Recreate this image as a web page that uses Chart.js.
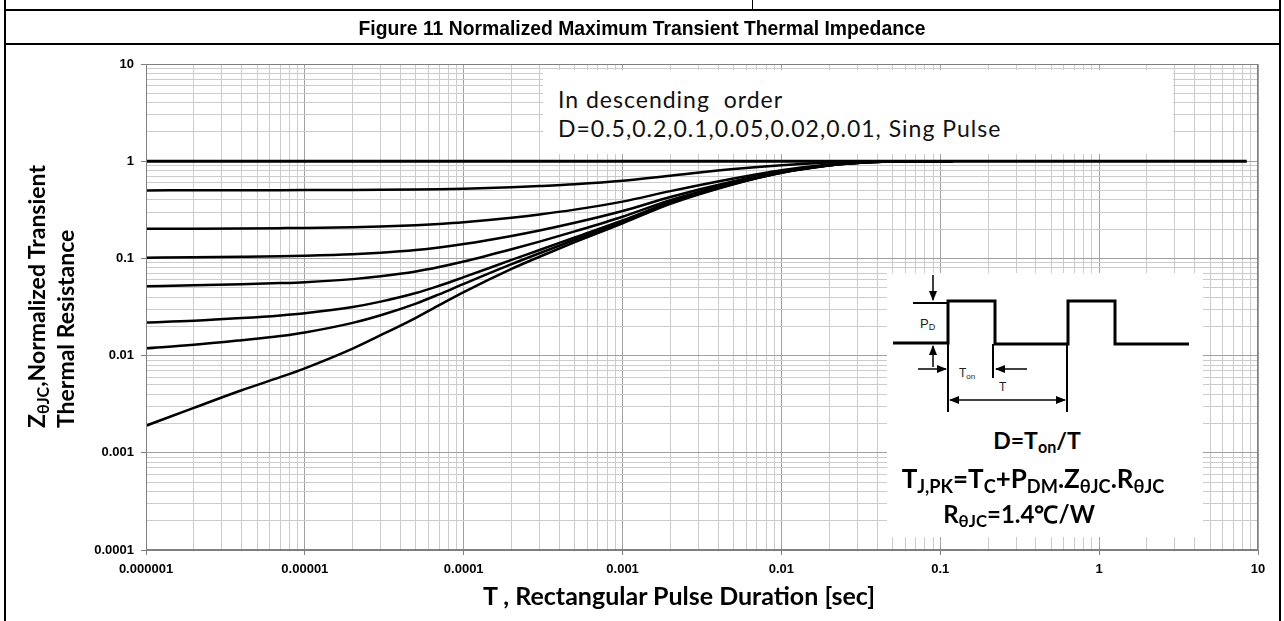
<!DOCTYPE html>
<html>
<head>
<meta charset="utf-8">
<script src="https://cdn.jsdelivr.net/npm/chart.js@4"></script>
<style>
  body { margin: 0; background: #fff; }
  #page { position: relative; width: 1284px; height: 621px; overflow: hidden; background: #fff; }
  #mchart { position: absolute; left: 0; top: 0; }
  .rule { position: absolute; background: #000; }
  #fig-title { position: absolute; left: 0; top: 16px; width: 1284px; text-align: center;
    font: bold 21px "Liberation Sans", Arial, sans-serif; color: #000; transform: scaleX(0.92); }
  #y-title { position: absolute; left: 22px; top: 428px; transform: rotate(-90deg); transform-origin: 0 0;
    white-space: nowrap; font: bold 23px Lato, sans-serif; line-height: 29px; color: #000; }
  #x-title { position: absolute; left: 429px; top: 580px; width: 500px; text-align: center;
    font: bold 25px Lato, sans-serif; color: #000; }
  sub { font-size: 0.7em; vertical-align: -0.25em; line-height: 0; }
  #note { position: absolute; left: 543px; top: 70px; width: 630px; height: 84px; background: #fff;
    font: 23px Lato, sans-serif; letter-spacing: 1px; color: #111; }
  #note div { position: absolute; left: 15px; white-space: nowrap; }
  #inset { position: absolute; left: 887px; top: 273px; width: 316px; height: 264px; background: #fff; }
  #inset svg { position: absolute; left: 0; top: 0; }
  .formula { position: absolute; left: 0; width: 300px; text-align: center; white-space: nowrap;
    font-family: Lato, sans-serif; font-weight: bold; color: #000; }
</style>
</head>
<body>
<div id="page">
  <canvas id="mchart" width="1284" height="621"></canvas>

  <!-- table frame around the figure -->
  <div class="rule" style="left:4px; top:0; width:2px; height:621px;"></div>
  <div class="rule" style="left:1279px; top:0; width:2px; height:621px;"></div>
  <div class="rule" style="left:4px; top:9px; width:1277px; height:2px;"></div>
  <div class="rule" style="left:752px; top:0; width:1px; height:10px;"></div>
  <div class="rule" style="left:4px; top:43px; width:1277px; height:2px;"></div>
  <div id="fig-title">Figure 11 Normalized Maximum Transient Thermal Impedance</div>

  <div id="y-title">Z<sub>θJC</sub>,Normalized Transient<br>Thermal Resistance</div>
  <div id="x-title">T , Rectangular Pulse Duration [sec]</div>

  <div id="note">
    <div style="top:15px;">In descending &nbsp;order</div>
    <div style="top:44px;">D=0.5,0.2,0.1,0.05,0.02,0.01, Sing Pulse</div>
  </div>

  <div id="inset">
    <svg width="316" height="264" viewBox="0 0 316 264">
      <defs>
        <marker id="ah" viewBox="0 0 10 10" refX="9" refY="5" markerWidth="7" markerHeight="7" orient="auto-start-reverse">
          <path d="M0,1 L10,5 L0,9 z" fill="#000"/>
        </marker>
      </defs>
      <polyline points="6,70 61,70 61,28 108,28 108,71 181,71 181,28 228,28 228,71 302,71"
        fill="none" stroke="#000" stroke-width="3"/>
      <line x1="26" y1="30" x2="61" y2="30" stroke="#000" stroke-width="2"/>
      <line x1="46" y1="2" x2="46" y2="27" stroke="#000" stroke-width="1.5" marker-end="url(#ah)"/>
      <line x1="46" y1="94" x2="46" y2="73" stroke="#000" stroke-width="1.5" marker-end="url(#ah)"/>
      <line x1="61" y1="70" x2="61" y2="139" stroke="#000" stroke-width="2"/>
      <line x1="106" y1="71" x2="106" y2="105" stroke="#000" stroke-width="2"/>
      <line x1="180" y1="71" x2="180" y2="139" stroke="#000" stroke-width="2"/>
      <line x1="31" y1="96" x2="59" y2="96" stroke="#000" stroke-width="1.5" marker-end="url(#ah)"/>
      <line x1="140" y1="96" x2="109" y2="96" stroke="#000" stroke-width="1.5" marker-end="url(#ah)"/>
      <line x1="63" y1="127" x2="178" y2="127" stroke="#000" stroke-width="1.5" marker-start="url(#ah)" marker-end="url(#ah)"/>
      <text x="33" y="55" font-family="Liberation Sans, Arial" font-size="13" fill="#222">P<tspan font-size="9" dy="2">D</tspan></text>
      <text x="72" y="104" font-family="Liberation Sans, Arial" font-size="12" fill="#222">T<tspan font-size="8" dy="2">on</tspan></text>
      <text x="112" y="118" font-family="Liberation Sans, Arial" font-size="12" fill="#222">T</text>
    </svg>
    <div class="formula" style="top:153px; font-size:23px;">D=T<sub>on</sub>/T</div>
    <div class="formula" style="top:189px; font-size:26px; left:-4px;">T<sub>J,PK</sub>=T<sub>C</sub>+P<sub>DM</sub>.Z<sub>θJC</sub>.R<sub>θJC</sub></div>
    <div class="formula" style="top:224px; font-size:24px; left:-18px;">R<sub>θJC</sub>=1.4℃/W</div>
  </div>
</div>

<script>
// Rectangular pulse duration, seconds (shared by every curve)
const pulseTimes = [1e-6, 2e-6, 4e-6, 7e-6, 1e-5, 2e-5, 3e-5, 5e-5, 7e-5, 1e-4,
                    2e-4, 3e-4, 5e-4, 1e-3, 2e-3, 5e-3, 1e-2, 2e-2, 3e-2, 5e-2, 1.2e-1];

// Normalized Z(thJC), one list per duty cycle
const zD05   = [0.501, 0.5015, 0.502, 0.503, 0.504, 0.506, 0.508, 0.512, 0.516, 0.522,
                0.539, 0.555, 0.58, 0.63, 0.71, 0.83, 0.91, 0.97, 0.99, 0.998, 1.0];
const zD02   = [0.2015, 0.2023, 0.2035, 0.2048, 0.2059, 0.2094, 0.213, 0.2196, 0.2264, 0.236,
                0.2624, 0.2832, 0.3176, 0.384, 0.492, 0.664, 0.808, 0.924, 0.968, 0.992, 1.0];
const zD01   = [0.1017, 0.1026, 0.104, 0.1054, 0.1067, 0.1106, 0.1146, 0.1221, 0.1297, 0.1405,
                0.1702, 0.1936, 0.2323, 0.307, 0.4285, 0.622, 0.784, 0.9145, 0.964, 0.991, 1.0];
const zD005  = [0.0518, 0.0528, 0.0542, 0.0557, 0.057, 0.0612, 0.0654, 0.0733, 0.0814, 0.0928,
                0.1241, 0.1488, 0.1897, 0.2685, 0.3968, 0.601, 0.772, 0.9098, 0.962, 0.9905, 1.0];
const zD002  = [0.0219, 0.0228, 0.0243, 0.0259, 0.0273, 0.0316, 0.0359, 0.044, 0.0523, 0.0641,
                0.0964, 0.1219, 0.1641, 0.2454, 0.3777, 0.5884, 0.7648, 0.9069, 0.9608, 0.9902, 1.0];
const zD001  = [0.0119, 0.0129, 0.0144, 0.0159, 0.0173, 0.0217, 0.026, 0.0343, 0.0427, 0.0546,
                0.0872, 0.113, 0.1555, 0.2377, 0.3714, 0.5842, 0.7624, 0.906, 0.9604, 0.9901, 1.0];
const zSingle = [0.0019, 0.0029, 0.0044, 0.006, 0.0074, 0.0118, 0.0162, 0.0245, 0.033, 0.045,
                 0.078, 0.104, 0.147, 0.23, 0.365, 0.58, 0.76, 0.905, 0.96, 0.99, 1.0];

// flat line at Z = 1
const unityTimes = [1e-6, 8.5];
const unityValues = [1, 1];

// axis decades and their labels
const xDecades = [1e-6, 1e-5, 1e-4, 1e-3, 1e-2, 1e-1, 1, 10];
const xTickLabels = ['0.000001', '0.00001', '0.0001', '0.001', '0.01', '0.1', '1', '10'];
const yDecades = [1e-4, 1e-3, 1e-2, 1e-1, 1, 10];
const yTickLabels = ['0.0001', '0.001', '0.01', '0.1', '1', '10'];

const GRID_MAJOR = '#a0a0a0';
const GRID_MINOR = '#cccccc';
const AXIS_GRAY = '#808080';

function to_points(xs, ys){
  return xs.map((x, i) => ({x: x, y: ys[i]}));
}

// decade ticks plus 2..9 minor ticks inside every decade
function log_ticks(decades){
  const ticks = [];
  decades.forEach((d, i) => {
    ticks.push({value: d, major: true});
    if(i < decades.length - 1){
      for(let m = 2; m <= 9; m++) ticks.push({value: d * m, major: false});
    }
  });
  return ticks;
}

function decade_label(decades, labels){
  return function(value, index, ticks){
    if(!ticks[index].major) return '';
    const k = decades.findIndex(d => Math.abs(Math.log10(d) - Math.log10(value)) < 1e-6);
    return k >= 0 ? labels[k] : '';
  };
}

function curve(data, width){
  return {
    data: data,
    borderColor: '#000',
    borderWidth: width,
    pointRadius: 0,
    fill: false,
    cubicInterpolationMode: 'monotone',
  };
}

// gray frame round the plot area
const plotFrame = {
  id: 'plotFrame',
  afterDraw(chart){
    const a = chart.chartArea;
    const ctx = chart.ctx;
    ctx.save();
    ctx.strokeStyle = AXIS_GRAY;
    ctx.lineWidth = 1;
    ctx.strokeRect(a.left + 0.5, a.top + 0.5, a.right - a.left - 1, a.bottom - a.top - 1);
    ctx.restore();
  }
};

const tickFont = {family: '"Liberation Sans", Arial, sans-serif', weight: 'bold', size: 13};

function axis_options(decades, labels, fitFn){
  return {
    type: 'logarithmic',
    min: decades[0],
    max: decades[decades.length - 1],
    afterBuildTicks: (scale) => { scale.ticks = log_ticks(decades); },
    afterFit: fitFn,
    ticks: {
      callback: decade_label(decades, labels),
      autoSkip: false,
      maxRotation: 0,
      color: '#000',
      font: tickFont,
      padding: 7,
    },
    grid: {
      color: (c) => (c.tick && c.tick.major) ? GRID_MAJOR : GRID_MINOR,
      tickColor: (c) => (c.tick && c.tick.major) ? AXIS_GRAY : 'rgba(0,0,0,0)',
      tickLength: 5,
      lineWidth: 1,
    },
    border: {color: AXIS_GRAY, width: 1},
  };
}

const ctx = document.getElementById('mchart').getContext('2d');
const zChart = new Chart(ctx, {
  type: 'line',
  data: {
    datasets: [
      curve(to_points(unityTimes, unityValues), 3),
      curve(to_points(pulseTimes, zD05), 2.5),
      curve(to_points(pulseTimes, zD02), 2.5),
      curve(to_points(pulseTimes, zD01), 2.5),
      curve(to_points(pulseTimes, zD005), 2.5),
      curve(to_points(pulseTimes, zD002), 2.5),
      curve(to_points(pulseTimes, zD001), 2.5),
      curve(to_points(pulseTimes, zSingle), 2.5),
    ]
  },
  options: {
    responsive: false,
    animation: false,
    layout: {padding: {left: 0, top: 64, right: 26, bottom: 0}},
    plugins: {
      legend: {display: false},
      tooltip: {enabled: false},
    },
    scales: {
      x: axis_options(xDecades, xTickLabels, (s) => { s.height = 71; }),
      y: axis_options(yDecades, yTickLabels, (s) => { s.width = 146; }),
    }
  },
  plugins: [plotFrame]
});
</script>
</body>
</html>
